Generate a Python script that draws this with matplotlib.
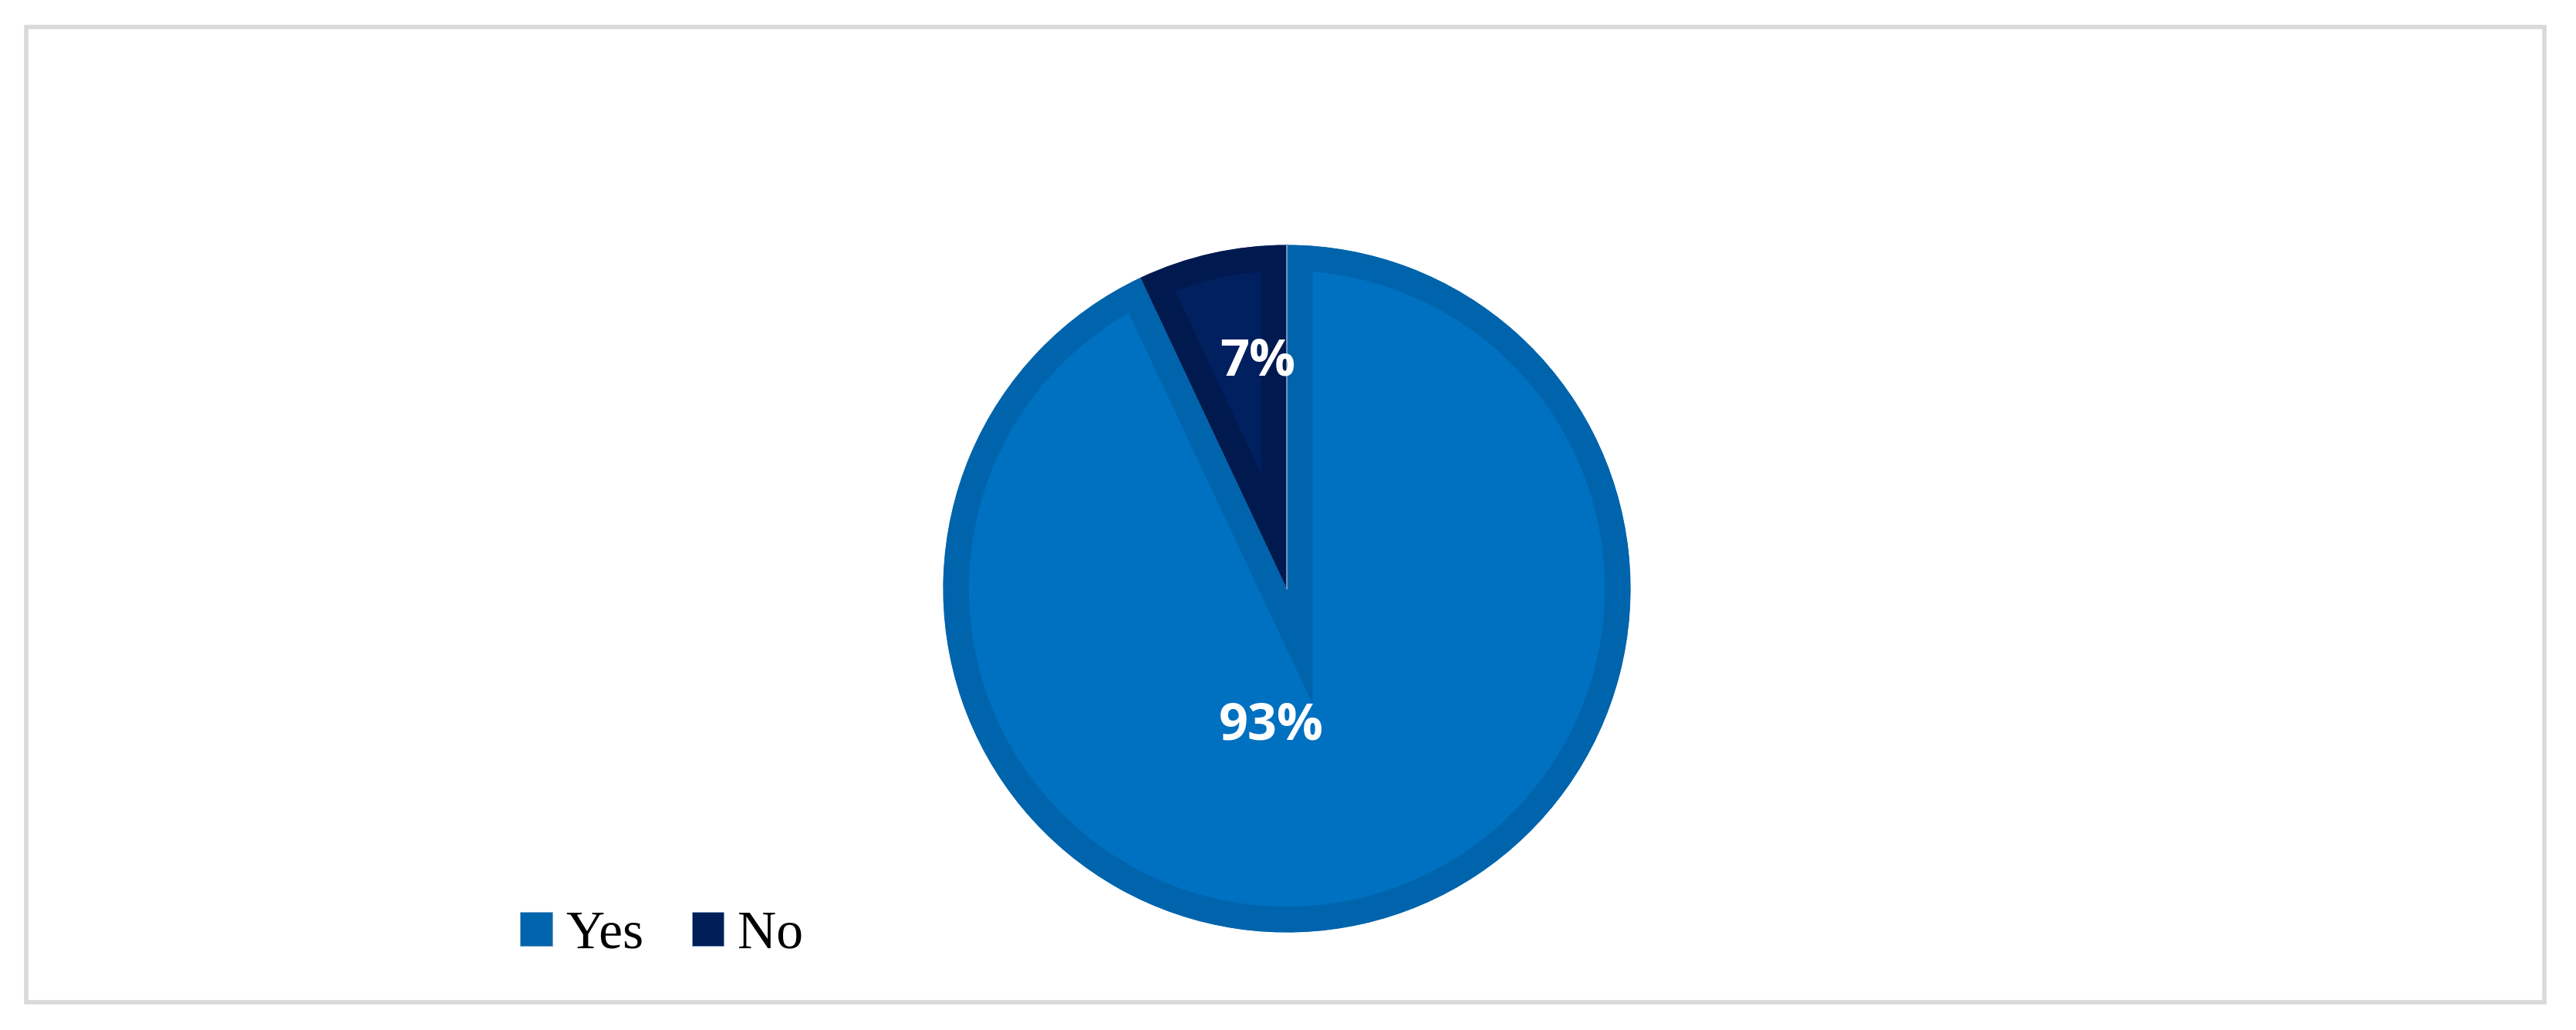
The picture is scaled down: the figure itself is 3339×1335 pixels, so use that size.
import matplotlib.pyplot as plt
from matplotlib.patches import Rectangle

# data
categories = ['Yes', 'No']
shares = [93, 7]
fill_colors = ['#0070C0', '#00205F']
edge_colors = ['#0064AC', '#001A50']
legend_colors = ['#0064AC', '#001E58']

W, H = 3339, 1335
fig = plt.figure(figsize=(W / 100, H / 100), dpi=100)

# outer light grey frame
fig.patches.append(Rectangle((34 / W, 1 - 1299 / H), (3298 - 34) / W, (1299 - 35) / H,
                             transform=fig.transFigure, fill=False,
                             edgecolor='#D9D9D9', linewidth=4))

# pie axes: center (1668, 763) px, radius 450 px
cx, cy, r = 1668, 763, 450
ax = fig.add_axes([(cx - r) / W, 1 - (cy + r) / H, 2 * r / W, 2 * r / H])
wedges, texts, autotexts = ax.pie(shares, colors=fill_colors, startangle=90,
                                  counterclock=False, radius=1,
                                  autopct='%1.0f%%',
                                  textprops=dict(color='white', fontsize=48,
                                                 fontweight='bold', family='Open Sans'))
# inset border on each wedge (stroke clipped to the wedge itself)
for w, ec in zip(wedges, edge_colors):
    w.set_edgecolor(ec)
    w.set_linewidth(48)
    w.set_clip_path(w)
    w.set_clip_on(True)

# label positions as Excel places them
autotexts[0].set_position((-0.045, -0.40))
autotexts[1].set_position((-0.085, 0.66))
for t in autotexts:
    t.set_ha('center')
    t.set_va('center')

# thin light seam between the two slices at 12 o'clock
ax.plot([0, 0], [0, 1], color='#8FA6C8', linewidth=1.2)

ax.set_xlim(-1.01, 1.01)
ax.set_ylim(-1.01, 1.01)
ax.set_aspect('equal')
ax.axis('off')

# legend
handles = [Rectangle((0, 0), 1, 1, facecolor=c, edgecolor='#7FA8D0', linewidth=0.5)
           for c in legend_colors]
fig.legend(handles, categories, loc='center left',
           bbox_to_anchor=(674 / W, 1 - 1212 / H), ncol=2, frameon=False,
           prop=dict(family='Liberation Serif', size=50),
           handlelength=0.6, handleheight=0.6, handletextpad=0.25,
           columnspacing=0.9, borderpad=0, borderaxespad=0)

fig.savefig('out.png', dpi=100, facecolor='white')
